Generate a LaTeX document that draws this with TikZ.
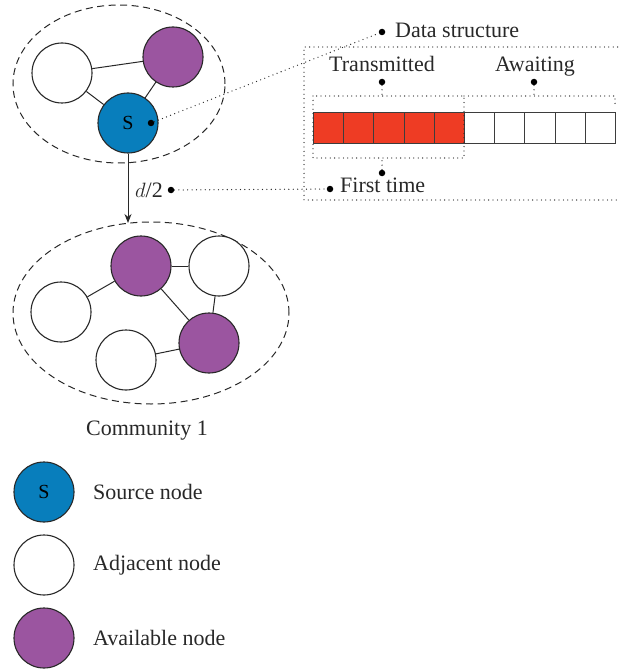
\documentclass[tikz,border=0pt]{standalone}
\usepackage{fontspec}
\setmainfont{Liberation Serif}
\usetikzlibrary{arrows.meta,shapes.geometric}
\definecolor{srcblue}{RGB}{8,126,188}
\definecolor{avlpurple}{RGB}{155,85,160}
\definecolor{sentred}{RGB}{238,60,36}
\definecolor{inkgray}{RGB}{40,40,40}
\tikzset{
  vert/.style={circle, draw=inkgray, line width=1.1pt, minimum size=60pt, inner sep=0pt,
               font=\fontsize{20}{22}\selectfont},
  srcnode/.style={vert, fill=srcblue},
  adjnode/.style={vert, fill=white},
  avlnode/.style={vert, fill=avlpurple},
  link/.style={draw=inkgray, line width=1pt},
  community/.style={draw=inkgray, line width=1pt, dash pattern=on 7pt off 4.5pt},
  guide/.style={draw=inkgray, line width=1.3pt, line cap=round, dash pattern=on 0pt off 4.4pt},
  pinpt/.style={circle, fill=black, inner sep=0pt, minimum size=6.5pt},
  lbl/.style={inner sep=0pt, font=\fontsize{22}{26}\selectfont, text=inkgray},
  cell/.style={draw=inkgray!90, line width=1pt, minimum width=30.2pt, minimum height=31pt,
               inner sep=0pt, anchor=north west}
}
\begin{document}
\begin{tikzpicture}[x=1pt,y=-1pt]
\useasboundingbox (0,0) rectangle (618,671);

% ---- top community with the source node ----
\node[community, ellipse, minimum width=212pt, minimum height=158pt] (c0) at (119,84) {};
\node[adjnode] (a1) at (62,73) {};
\node[avlnode] (p1) at (173,57) {};
\node[srcnode] (s) at (128,123) {S};
\draw[link] (a1) -- (p1);
\draw[link] (a1) -- (s);
\draw[link] (s) -- (p1);

% ---- community 1 ----
\node[community, ellipse, minimum width=276pt, minimum height=182pt] (c1) at (151,313) {};
\node[avlnode] (p2) at (141,266) {};
\node[adjnode] (a2) at (219,266) {};
\node[adjnode] (a3) at (61,312) {};
\node[avlnode] (p3) at (209,343) {};
\node[adjnode] (a4) at (126,360) {};
\draw[link] (p2) -- (a2);
\draw[link] (p2) -- (a3);
\draw[link] (p2) -- (p3);
\draw[link] (a2) -- (p3);
\draw[link] (a4) -- (p3);
\node[lbl, anchor=base] (ctext) at (147,435) {Community 1};

% ---- forwarding arrow ----
\coordinate (arrend) at (128,223);
\draw[draw=inkgray, line width=1pt, -{Stealth[length=9pt,width=7pt]}] (s.south) -- (arrend);
\node[lbl, anchor=base east] (half) at (163,197) {$d$/2};
\node[pinpt] (halfpt) at (171,190) {};

% ---- data structure of the source node ----
\node[pinpt] (spt) at (151,123) {};
\node[pinpt] (dspt) at (382,32) {};
\node[lbl, anchor=base west] (dstext) at (395,38) {Data structure};
\draw[guide] (spt) -- (dspt);
\draw[guide] (622,47) -- (304,47) -- (304,200) -- (622,200);

% buffer cells
\foreach \i in {0,...,4}
  \node[cell, fill=sentred] (cell\i) at ({313+30.2*\i},112) {};
\foreach \i in {5,...,9}
  \node[cell, fill=white] (cell\i) at ({313+30.2*\i},112) {};

% brackets over the sent and waiting parts
\draw[guide] (313,96) rectangle (464,158);
\draw[guide] (464,96) -- (615,96) -- (615,104);

\node[lbl, anchor=base] (ttext) at (382,72) {Transmitted};
\node[pinpt] (tpt) at (382,82) {};
\draw[guide] (tpt) -- (382,96);
\node[lbl, anchor=base] (wtext) at (535,72) {Awaiting};
\node[pinpt] (wpt) at (534,82) {};
\draw[guide] (wpt) -- (534,96);

\node[pinpt] (fpt) at (382,173) {};
\draw[guide] (fpt) -- (382,158);
\node[pinpt] (ftpt) at (330,189) {};
\node[lbl, anchor=base west] (fttext) at (340,193) {First time};
\draw[guide] (halfpt) -- (ftpt);

% ---- legend ----
\node[srcnode] (ls) at (44,492) {S};
\node[lbl, anchor=west] (lstext) at (93,492) {Source node};
\node[adjnode] (la) at (44,565) {};
\node[lbl, anchor=west] (latext) at (93,565) {Adjacent node};
\node[avlnode] (lp) at (44,638) {};
\node[lbl, anchor=west] (lptext) at (93,638) {Available node};
\end{tikzpicture}
\end{document}
